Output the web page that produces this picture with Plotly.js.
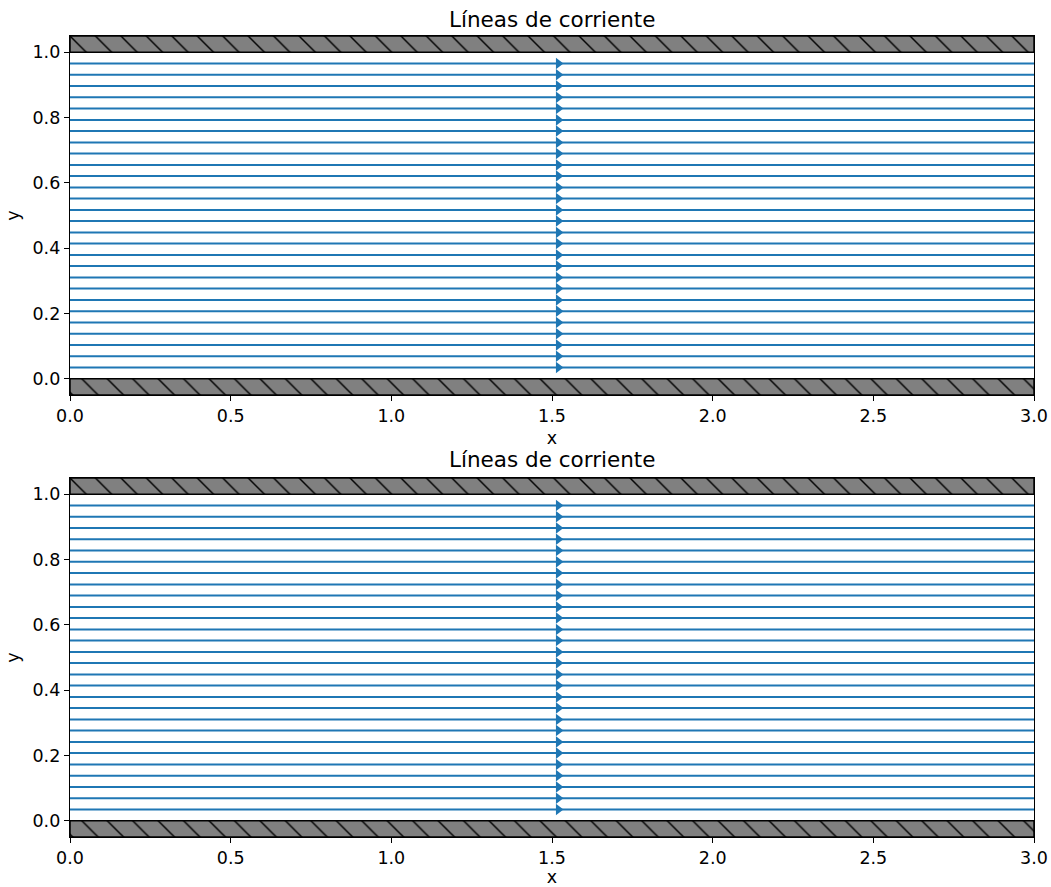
<!DOCTYPE html>
<html>
<head>
<meta charset="utf-8">
<script src="https://cdn.plot.ly/plotly-3.0.1.min.js"></script>
<style>html,body{margin:0;padding:0;background:#fff;}#chart{width:1051px;height:887px;}</style>
</head>
<body>
<div id="chart"></div>
<script>
// ---- data ----
const streamY = [0.034, 0.069, 0.103, 0.138, 0.172, 0.207, 0.241, 0.276, 0.310, 0.345,
                 0.379, 0.414, 0.448, 0.483, 0.517, 0.552, 0.586, 0.621, 0.655, 0.690,
                 0.724, 0.759, 0.793, 0.828, 0.862, 0.897, 0.931, 0.966];
const streamXStart = 0.0;
const streamXEnd = 3.0;
const arrowX = 1.52;
const channelX = [0.0, 3.0];
const wallTop = [1.0, 1.05];
const wallBottom = [-0.05, 0.0];
const titles = ["Líneas de corriente", "Líneas de corriente"];
const xTicks = [0.0, 0.5, 1.0, 1.5, 2.0, 2.5, 3.0];
const xTickText = ["0.0", "0.5", "1.0", "1.5", "2.0", "2.5", "3.0"];
const yTicks = [0.0, 0.2, 0.4, 0.6, 0.8, 1.0];
const yTickText = ["0.0", "0.2", "0.4", "0.6", "0.8", "1.0"];

const blue = '#1f77b4';
const FONT = 'DejaVu Sans, sans-serif';
const TICK = 17.5, LABEL = 17.5, TITLE = 21.5;

function wallTrace(ys, xa, ya) {
  return {
    type: 'scatter', mode: 'lines', xaxis: xa, yaxis: ya,
    x: [channelX[0], channelX[1], channelX[1], channelX[0], channelX[0]],
    y: [ys[0], ys[0], ys[1], ys[1], ys[0]],
    fill: 'toself', fillcolor: 'gray',
    fillpattern: {shape: '\\', fgcolor: 'black', bgcolor: 'gray', size: 18, solidity: 0.08},
    line: {color: 'black', width: 1.5},
    hoverinfo: 'skip', showlegend: false
  };
}

const traces = [];
[['x', 'y'], ['x2', 'y2']].forEach(([xa, ya]) => {
  const lx = [], ly = [];
  streamY.forEach(v => { lx.push(streamXStart, streamXEnd, null); ly.push(v, v, null); });
  traces.push({
    type: 'scatter', mode: 'lines', xaxis: xa, yaxis: ya,
    x: lx, y: ly, line: {color: blue, width: 2},
    hoverinfo: 'skip', showlegend: false
  });
  traces.push({
    type: 'scatter', mode: 'markers', xaxis: xa, yaxis: ya,
    x: streamY.map(() => arrowX), y: streamY,
    marker: {symbol: 'triangle-right', size: 10, color: blue, line: {width: 0}},
    hoverinfo: 'skip', showlegend: false
  });
  traces.push(wallTrace(wallTop, xa, ya));
  traces.push(wallTrace(wallBottom, xa, ya));
});

function xaxis(anchor) {
  return {
    anchor: anchor, range: [0, 3], tickvals: xTicks, ticktext: xTickText,
    showgrid: false, zeroline: false, showline: true, mirror: true,
    linecolor: 'black', linewidth: 1.2, ticks: 'outside', ticklen: 5, tickcolor: 'black',
    tickfont: {family: FONT, size: TICK, color: 'black'},
    title: {text: 'x', font: {family: FONT, size: LABEL, color: 'black'}, standoff: 6},
    automargin: false
  };
}
function yaxis(anchor, domain) {
  return {
    anchor: anchor, domain: domain, range: [-0.05, 1.05], tickvals: yTicks, ticktext: yTickText,
    showgrid: false, zeroline: false, showline: true, mirror: true,
    linecolor: 'black', linewidth: 1.2, ticks: 'outside', ticklen: 5, tickcolor: 'black',
    tickfont: {family: FONT, size: TICK, color: 'black'},
    title: {text: 'y', font: {family: FONT, size: LABEL, color: 'black'}, standoff: 8},
    automargin: false
  };
}

const layout = {
  width: 1051, height: 887,
  margin: {l: 70, r: 17, t: 36, b: 50},
  paper_bgcolor: 'white', plot_bgcolor: 'white',
  font: {family: FONT, color: 'black'},
  xaxis: xaxis('y'),
  yaxis: yaxis('x', [0.5518, 1]),
  xaxis2: xaxis('y2'),
  yaxis2: yaxis('x2', [0, 0.4482]),
  annotations: [
    {text: titles[0], xref: 'paper', yref: 'paper', x: 0.5, y: 1, yshift: 17, xanchor: 'center', yanchor: 'middle', showarrow: false,
     font: {family: FONT, size: TITLE, color: 'black'}},
    {text: titles[1], xref: 'paper', yref: 'paper', x: 0.5, y: 0.4482, yshift: 18, xanchor: 'center', yanchor: 'middle', showarrow: false,
     font: {family: FONT, size: TITLE, color: 'black'}}
  ],
  showlegend: false
};

Plotly.newPlot('chart', traces, layout, {displayModeBar: false, staticPlot: true});
</script>
</body>
</html>
